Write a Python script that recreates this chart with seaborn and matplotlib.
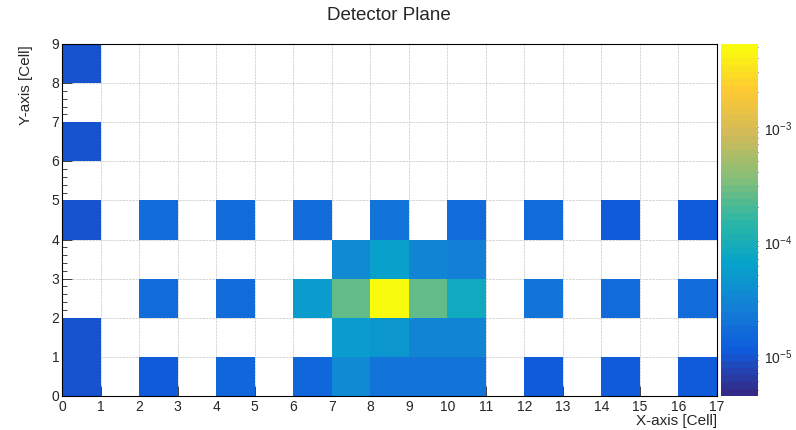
import numpy as np
import matplotlib
matplotlib.use("Agg")
import matplotlib.pyplot as plt
from matplotlib.colors import LinearSegmentedColormap, ListedColormap, LogNorm
from matplotlib.ticker import MultipleLocator, LogLocator, NullFormatter
import seaborn as sns

sns.set_style("white")
plt.rcParams['font.family'] = ['Liberation Sans', 'DejaVu Sans']
plt.rcParams['mathtext.fontset'] = 'custom'
plt.rcParams['mathtext.rm'] = 'Liberation Sans'
plt.rcParams['mathtext.it'] = 'Liberation Sans'
plt.rcParams['mathtext.default'] = 'regular'

# ---- data: rows of cell contents (y bin 0 .. 8), x bins 0 .. 16 ----
title = "Detector Plane"
x_label = "X-axis [Cell]"
y_label = "Y-axis [Cell]"
row_y0 = [1.0e-5, 0, 1.1e-5, 0, 1.5e-5, 0, 1.5e-5, 3.5e-5, 2.0e-5, 2.0e-5, 2.0e-5, 0, 1.1e-5, 0, 1.1e-5, 0, 1.1e-5]
row_y1 = [1.0e-5, 0, 0, 0, 0, 0, 0, 5.0e-5, 4.5e-5, 2.8e-5, 2.8e-5, 0, 0, 0, 0, 0, 0]
row_y2 = [0, 0, 1.7e-5, 0, 1.7e-5, 0, 5.0e-5, 2.4e-4, 5.0e-3, 2.4e-4, 8.0e-5, 0, 2.0e-5, 0, 1.7e-5, 0, 1.7e-5]
row_y3 = [0, 0, 0, 0, 0, 0, 0, 3.3e-5, 6.0e-5, 3.0e-5, 2.5e-5, 0, 0, 0, 0, 0, 0]
row_y4 = [1.0e-5, 0, 1.7e-5, 0, 1.7e-5, 0, 1.7e-5, 0, 2.0e-5, 0, 1.7e-5, 0, 1.7e-5, 0, 1.1e-5, 0, 1.1e-5]
row_y5 = [0] * 17
row_y6 = [1.0e-5] + [0] * 16
row_y7 = [0] * 17
row_y8 = [1.0e-5] + [0] * 16
z_min, z_max = 4.4e-6, 5.3e-3
x_ticks = list(range(0, 18))
y_ticks = list(range(0, 10))

data = np.array([row_y0, row_y1, row_y2, row_y3, row_y4,
                 row_y5, row_y6, row_y7, row_y8], dtype=float)

# ROOT kBird palette
stops = [0.0000, 0.1250, 0.2500, 0.3750, 0.5000, 0.6250, 0.7500, 0.8750, 1.0000]
red = [0.2082, 0.0592, 0.0780, 0.0232, 0.1802, 0.5301, 0.8186, 0.9956, 0.9764]
green = [0.1664, 0.3599, 0.5041, 0.6419, 0.7178, 0.7492, 0.7328, 0.7862, 0.9832]
blue = [0.5293, 0.8684, 0.8385, 0.7914, 0.6425, 0.4662, 0.3499, 0.1968, 0.0539]
bird = LinearSegmentedColormap.from_list(
    "bird", list(zip(stops, zip(red, green, blue))), N=255)
ncont = 50
cmap = ListedColormap([bird(i / (ncont - 1)) for i in range(ncont)])

fig = plt.figure(figsize=(7.96, 4.31), dpi=100)
ax = fig.add_axes([62 / 796, 1 - 397 / 431, (717 - 62) / 796, (397 - 45) / 431])
cax = fig.add_axes([721 / 796, 1 - 397 / 431, (758 - 721) / 796, (397 - 45) / 431])

ax.set_axisbelow(True)

sns.heatmap(data, mask=(data <= 0), cmap=cmap, norm=LogNorm(vmin=z_min, vmax=z_max),
            ax=ax, cbar_ax=cax, linewidths=0)

ax.set_xlim(0, 17)
ax.set_ylim(0, 9)
for s in ax.spines.values():
    s.set_visible(True)
    s.set_color("black")
    s.set_linewidth(0.8)
ax.set_xticks(x_ticks)
ax.set_xticklabels([str(t) for t in x_ticks], rotation=0)
ax.set_yticks(y_ticks)
ax.set_yticklabels([str(t) for t in y_ticks], rotation=0)
ax.yaxis.set_minor_locator(MultipleLocator(0.2))
ax.tick_params(axis="both", which="major", direction="in", length=7, width=0.6,
               labelsize=10, pad=2, bottom=True, left=True, top=False, right=False)
ax.tick_params(axis="y", which="minor", direction="in", length=3.5, width=0.6, left=True)
ax.grid(True, color="#d0d0d0", linestyle=(0, (3, 1)), linewidth=0.6, zorder=0)
ax.set_xlabel(x_label, fontsize=11, loc="right", labelpad=0)
ax.set_ylabel(y_label, fontsize=11, loc="top", labelpad=13)

fig.text(389 / 796, 1 - 15 / 431, title, ha="center", va="center", fontsize=13.5)

cbar = ax.collections[0].colorbar
cbar.outline.set_visible(False)
cax.yaxis.set_major_locator(LogLocator(base=10, numticks=10))
cax.yaxis.set_minor_locator(LogLocator(base=10, subs=np.arange(2, 10), numticks=10))
cax.yaxis.set_minor_formatter(NullFormatter())
cax.tick_params(axis="y", which="major", direction="in", length=9, width=0.6,
                labelsize=10, pad=4, right=True)
cax.tick_params(axis="y", which="minor", direction="in", length=5, width=0.6, right=True)

fig.savefig("out.png", dpi=100, facecolor="white")
